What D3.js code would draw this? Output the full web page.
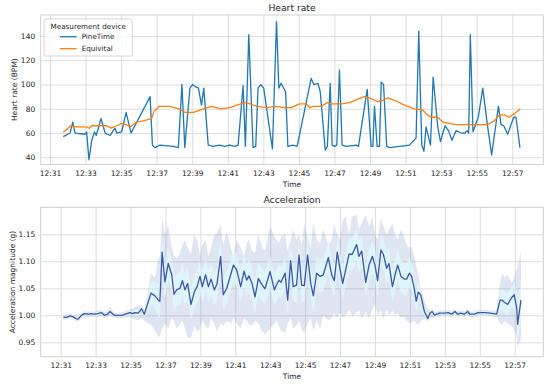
<!DOCTYPE html>
<html>
<head>
<meta charset="utf-8">
<script src="https://cdn.jsdelivr.net/npm/d3@7"></script>
<style>
body { margin: 0; background: #fff; }
text { font-family: "DejaVu Sans", sans-serif; fill: #262626; }
</style>
</head>
<body>
<script>
// times are minutes after 12:00
var pineTime = [31.75,32.13,32.28,32.41,32.97,33.06,33.19,33.35,33.50,33.60,33.87,34.10,34.38,34.66,34.75,35.03,35.28,35.56,36.63,36.76,
  36.90,37.19,37.94,38.22,38.42,38.58,38.87,39.02,39.20,39.35,39.52,39.65,39.90,40.17,40.54,40.83,41.11,41.39,41.58,41.86,
  41.99,42.18,42.42,42.57,42.70,42.85,43.02,43.51,43.74,43.87,44.00,44.25,44.38,44.66,44.90,45.69,45.84,46.07,46.20,46.48,
  46.60,46.76,46.87,47.00,47.13,47.28,47.43,47.66,48.22,48.35,48.84,49.06,49.16,49.25,49.40,49.53,49.63,49.76,49.94,50.09,
  51.22,51.59,51.74,51.91,52.03,52.15,52.40,52.55,52.81,52.96,53.22,53.41,53.61,53.84,54.12,54.34,54.46,54.55,54.64,54.79,
  55.09,55.34,55.58,55.84,56.22,56.37,56.52,56.74,57.08,57.21,57.43];
var pineBpm = [57,60,69,60,59,61,38,54,61,58,72,60,58,64,60,61,77,60,90,50,
  48,50,49,48,100,48,97,100,98,97,83,97,50,49,50,49,50,49,50,99,
  49,141,48,49,97,100,97,47,152,97,101,94,49,50,49,105,100,101,94,46,
  49,101,50,49,50,112,50,49,50,49,96,49,49,82,49,49,102,100,49,48,
  50,56,144,50,45,65,50,106,65,53,66,62,54,62,60,60,62,60,141,61,
  73,97,69,42,82,67,66,59,73,73,48];

var equiTime = [31.75,32.18,32.50,33.06,33.21,33.35,33.81,34.19,34.43,34.75,35.03,35.28,35.50,35.88,36.25,36.72,36.85,37.00,37.15,37.75,
  38.22,38.60,39.07,39.63,40.10,40.57,41.13,41.50,41.97,42.25,42.63,43.20,43.66,44.19,44.57,45.04,45.41,45.60,45.79,46.25,
  46.59,46.82,47.38,47.85,48.31,48.69,48.97,49.25,49.44,49.72,50.00,50.37,50.94,51.50,51.97,52.15,52.43,52.81,53.09,53.46,
  53.84,54.12,54.40,55.06,55.62,55.99,56.27,56.55,56.83,57.12,57.45];
var equiBpm = [60.6,66,65,65,64,66,66,66,64,66,68,67,65,69,70,72,78,80,82,82,
  80,77,77,80,82,80,81,83,85,84,82,81,82,81,81,84,84,81,82,82,
  85,84,84,85,88,90,89,87,86,87,89,87,83,80,79,76,73,73,69,68,
  67,67,67,67,67,70,75,75,73,76,80];

var accTime = [31.15,31.34,31.53,31.72,31.86,32.00,32.16,32.35,32.58,32.74,32.93,33.12,33.35,33.50,33.69,33.82,34.07,34.30,34.49,34.78,
  34.97,35.12,35.25,35.44,35.63,35.79,36.17,36.40,36.59,36.68,36.81,36.97,37.16,37.36,37.49,37.64,37.83,37.97,38.12,38.27,
  38.46,38.65,38.81,38.98,39.11,39.30,39.46,39.61,39.80,39.95,40.16,40.31,40.51,40.79,40.89,41.08,41.31,41.50,41.65,41.78,
  41.95,42.13,42.32,42.55,42.70,42.99,43.24,43.37,43.50,43.62,43.85,44.00,44.17,44.32,44.51,44.65,44.80,44.95,45.14,45.32,
  45.47,45.66,45.85,46.04,46.33,46.52,46.67,46.84,46.99,47.15,47.32,47.51,47.70,47.95,48.08,48.24,48.47,48.66,48.85,49.00,
  49.15,49.34,49.48,49.67,49.80,50.00,50.15,50.30,50.49,50.68,50.81,50.97,51.10,51.25,51.36,51.48,51.62,51.83,52.02,52.15,
  52.28,52.40,52.53,52.72,53.01,53.20,53.39,53.58,53.74,53.93,54.12,54.31,54.44,54.69,54.92,55.30,55.59,55.97,56.16,56.29,
  56.41,56.60,56.83,56.98,57.12,57.17,57.36];
var accMean = [0.996,0.996,0.999,0.997,0.994,0.993,0.999,1.003,1.002,1.003,1.002,1.003,1.005,1.000,1.002,1.007,1.000,1.000,1.000,1.003,
  1.005,1.003,1.005,1.004,1.012,1.002,1.041,1.036,1.028,1.026,1.117,1.062,1.096,1.075,1.039,1.047,1.050,1.064,1.047,1.059,
  1.020,1.043,1.053,1.072,1.053,1.075,1.053,1.067,1.047,1.058,1.109,1.038,1.050,1.081,1.093,1.084,1.053,1.082,1.065,1.073,
  1.060,1.034,1.068,1.056,1.049,1.081,1.047,1.057,1.065,1.061,1.078,1.028,1.101,1.053,1.056,1.112,1.056,1.055,1.112,1.059,
  1.036,1.078,1.072,1.075,1.107,1.075,1.064,1.117,1.087,1.059,1.084,1.113,1.113,1.131,1.109,1.119,1.061,1.093,1.109,1.093,
  1.064,1.121,1.113,1.087,1.096,1.053,1.075,1.093,1.072,1.067,1.067,1.078,1.072,1.050,1.026,1.043,1.038,1.007,0.994,1.004,
  1.007,1.000,1.002,1.004,1.004,1.005,1.002,1.007,1.002,1.004,1.002,1.007,1.002,1.002,1.005,1.005,1.004,1.002,1.028,1.028,
  1.024,1.020,1.033,1.038,1.012,0.983,1.028];
var accMax = [1.000,1.001,1.004,1.002,0.999,0.998,1.004,1.008,1.006,1.008,1.006,1.009,1.010,1.005,1.008,1.016,1.005,1.005,1.005,1.009,
  1.011,1.012,1.015,1.018,1.020,1.010,1.078,1.070,1.105,1.110,1.178,1.150,1.167,1.125,1.110,1.105,1.115,1.130,1.139,1.125,
  1.115,1.150,1.140,1.110,1.130,1.140,1.110,1.125,1.150,1.152,1.167,1.130,1.155,1.120,1.110,1.140,1.125,1.110,1.135,1.140,
  1.120,1.115,1.150,1.125,1.120,1.164,1.146,1.140,1.135,1.145,1.152,1.120,1.140,1.158,1.140,1.150,1.130,1.170,1.145,1.125,
  1.173,1.140,1.135,1.160,1.130,1.140,1.168,1.150,1.140,1.175,1.183,1.150,1.183,1.186,1.160,1.170,1.186,1.165,1.182,1.150,
  1.140,1.180,1.165,1.150,1.160,1.170,1.150,1.140,1.160,1.145,1.130,1.125,1.127,1.109,1.090,1.078,1.050,1.028,1.012,1.010,
  1.012,1.006,1.007,1.009,1.009,1.010,1.007,1.012,1.007,1.009,1.007,1.012,1.007,1.007,1.010,1.010,1.009,1.008,1.059,1.078,
  1.070,1.075,1.060,1.071,1.085,1.090,1.118];
var accMin = [0.991,0.992,0.994,0.993,0.989,0.988,0.994,0.998,0.997,0.998,0.997,0.998,0.999,0.995,0.996,1.000,0.995,0.995,0.995,0.997,
  0.998,0.994,0.993,0.990,0.996,0.990,0.982,0.972,0.960,0.962,0.975,0.985,0.975,0.995,0.990,0.975,0.985,0.990,0.975,0.960,
  0.957,0.980,0.970,0.975,0.990,0.980,0.975,0.995,0.985,0.970,0.985,0.980,0.990,0.985,0.995,0.985,0.975,0.995,0.990,0.985,
  0.980,0.990,0.985,0.970,0.965,0.975,0.985,0.990,0.980,0.972,0.967,0.985,0.995,0.975,0.982,0.990,0.975,0.967,0.985,0.995,
  0.970,0.990,0.975,1.000,0.990,0.995,1.004,0.995,1.005,0.995,1.000,1.010,0.998,1.005,1.010,0.995,1.005,0.995,1.010,1.020,
  1.000,1.010,0.995,1.010,1.000,1.008,1.000,1.005,0.995,0.998,0.990,0.985,0.988,0.990,0.985,0.982,0.990,0.993,0.988,0.994,
  0.997,0.995,0.997,0.999,0.999,1.000,0.997,1.002,0.997,0.999,0.997,1.002,0.997,0.997,1.000,1.000,0.999,0.996,0.985,0.982,
  0.990,0.985,0.980,0.973,0.960,0.942,0.955];
var accStd = [0.003,0.003,0.003,0.003,0.003,0.003,0.003,0.003,0.003,0.003,0.003,0.003,0.003,0.003,0.003,0.004,0.003,0.003,0.003,0.003,
  0.004,0.004,0.005,0.006,0.005,0.005,0.020,0.025,0.030,0.030,0.030,0.030,0.030,0.030,0.030,0.030,0.030,0.030,0.030,0.030,
  0.030,0.030,0.030,0.030,0.030,0.030,0.030,0.030,0.030,0.030,0.030,0.030,0.030,0.030,0.030,0.030,0.030,0.030,0.030,0.030,
  0.030,0.030,0.030,0.030,0.030,0.030,0.030,0.030,0.030,0.030,0.030,0.030,0.030,0.030,0.030,0.030,0.030,0.030,0.030,0.030,
  0.030,0.030,0.030,0.030,0.030,0.030,0.030,0.030,0.030,0.030,0.030,0.030,0.030,0.030,0.030,0.030,0.030,0.030,0.030,0.030,
  0.030,0.030,0.030,0.030,0.030,0.030,0.030,0.030,0.030,0.030,0.030,0.028,0.026,0.024,0.020,0.018,0.014,0.008,0.005,0.004,
  0.004,0.003,0.003,0.003,0.003,0.003,0.003,0.003,0.003,0.003,0.003,0.003,0.003,0.003,0.003,0.003,0.003,0.003,0.018,0.020,
  0.020,0.020,0.020,0.024,0.028,0.032,0.035];

var timeTicks = ["12:31","12:33","12:35","12:37","12:39","12:41","12:43","12:45","12:47","12:49","12:51","12:53","12:55","12:57"];
var hrTicks = [40, 60, 80, 100, 120, 140];
var accTicks = [0.95, 1.00, 1.05, 1.10, 1.15];

var svg = d3.select("body").append("svg")
  .attr("width", 550)
  .attr("height", 384);

var parseHM = d3.timeParse("%H:%M");
var noon = parseHM("12:00");
function toDate(m) { return new Date(noon.getTime() + m * 60000); }
var tickDates = timeTicks.map(parseHM);

var left = 40.7, right = 543.3;
var top1 = 15, bot1 = 164.3, top2 = 207.3, bot2 = 356.7;

var x1 = d3.scaleTime().domain([toDate(30.477), toDate(58.745)]).range([left, right]);
var y1 = d3.scaleLinear().domain([34.23, 157.3]).range([bot1, top1]);
var x2 = d3.scaleTime().domain([toDate(29.855), toDate(58.64)]).range([left, right]);
var y2 = d3.scaleLinear().domain([0.9233, 1.2]).range([bot2, top2]);

var fs = 7.5;

function drawGrid(x, y, yTicks, yFmt, top, bot, xPad) {
  var gx = svg.append("g")
    .attr("transform", "translate(0," + bot + ")")
    .call(d3.axisBottom(x).tickValues(tickDates).tickFormat(d3.timeFormat("%H:%M"))
      .tickSize(-(bot - top)).tickPadding(xPad));
  var gy = svg.append("g")
    .attr("transform", "translate(" + left + ",0)")
    .call(d3.axisLeft(y).tickValues(yTicks).tickFormat(yFmt)
      .tickSize(-(right - left)).tickPadding(5.5));
  [gx, gy].forEach(function(g) {
    g.select(".domain").remove();
    g.selectAll("line").attr("stroke", "#d9d9d9").attr("stroke-width", 0.9);
    g.attr("font-family", null).attr("font-size", fs);
    g.selectAll("text").attr("fill", "#262626");
  });
}

function drawFrame(top, bot, title, titleY, ylabel, ylabelX, xlabelY) {
  svg.append("rect")
    .attr("x", left).attr("y", top)
    .attr("width", right - left).attr("height", bot - top)
    .attr("fill", "none").attr("stroke", "#cccccc").attr("stroke-width", 0.9);
  svg.append("text")
    .attr("x", (left + right) / 2).attr("y", titleY)
    .attr("text-anchor", "middle").attr("font-size", 9.2)
    .text(title);
  svg.append("text")
    .attr("x", (left + right) / 2).attr("y", xlabelY)
    .attr("text-anchor", "middle").attr("font-size", fs)
    .text("Time");
  svg.append("text")
    .attr("transform", "translate(" + ylabelX + "," + (top + bot) / 2 + ") rotate(-90)")
    .attr("text-anchor", "middle").attr("font-size", fs)
    .text(ylabel);
}

// heart rate panel
drawGrid(x1, y1, hrTicks, d3.format("d"), top1, bot1, 6.8);

var pineLine = d3.line()
  .x(function(d, i) { return x1(toDate(pineTime[i])); })
  .y(function(d) { return y1(d); });
var equiLine = d3.line()
  .x(function(d, i) { return x1(toDate(equiTime[i])); })
  .y(function(d) { return y1(d); });

svg.append("path").datum(pineBpm)
  .attr("d", pineLine)
  .attr("fill", "none").attr("stroke", "#1f77b4").attr("stroke-width", 1.3)
  .attr("stroke-linejoin", "round");
svg.append("path").datum(equiBpm)
  .attr("d", equiLine)
  .attr("fill", "none").attr("stroke", "#ff7f0e").attr("stroke-width", 1.3)
  .attr("stroke-linejoin", "round");

drawFrame(top1, bot1, "Heart rate", 11.2, "Heart rate (BPM)", 16.5, 187.2);

// legend
var leg = svg.append("g");
leg.append("rect")
  .attr("x", 44).attr("y", 19).attr("width", 88.3).attr("height", 37).attr("rx", 2)
  .attr("fill", "#fff").attr("fill-opacity", 0.8)
  .attr("stroke", "#cccccc").attr("stroke-width", 0.8);
leg.append("text")
  .attr("x", 88.2).attr("y", 28.6).attr("text-anchor", "middle").attr("font-size", 7.2)
  .text("Measurement device");
var legItems = [["PineTime", "#1f77b4"], ["Equivital", "#ff7f0e"]];
legItems.forEach(function(it, i) {
  var yy = 36.7 + i * 12;
  leg.append("line")
    .attr("x1", 60).attr("x2", 76.7).attr("y1", yy).attr("y2", yy)
    .attr("stroke", it[1]).attr("stroke-width", 1.3);
  leg.append("text")
    .attr("x", 81.7).attr("y", yy + 2.7).attr("font-size", 7.2)
    .text(it[0]);
});

// acceleration panel
drawGrid(x2, y2, accTicks, d3.format(".2f"), top2, bot2, 6.2);

var outerArea = d3.area()
  .x(function(d, i) { return x2(toDate(accTime[i])); })
  .y0(function(d, i) { return y2(accMin[i]); })
  .y1(function(d, i) { return y2(accMax[i]); });
var innerArea = d3.area()
  .x(function(d, i) { return x2(toDate(accTime[i])); })
  .y0(function(d, i) { return y2(accMean[i] - accStd[i]); })
  .y1(function(d, i) { return y2(accMean[i] + accStd[i]); });
var accLine = d3.line()
  .x(function(d, i) { return x2(toDate(accTime[i])); })
  .y(function(d) { return y2(d); });

svg.append("path").datum(accMean)
  .attr("d", outerArea)
  .attr("fill", "#4a64b0").attr("fill-opacity", 0.17);
svg.append("path").datum(accMean)
  .attr("d", innerArea)
  .attr("fill", "#e0ffff").attr("fill-opacity", 0.6);
svg.append("path").datum(accMean)
  .attr("d", accLine)
  .attr("fill", "none").attr("stroke", "#3a56a6").attr("stroke-width", 1.3)
  .attr("stroke-linejoin", "round");

drawFrame(top2, bot2, "Acceleration", 202.7, "Acceleration magnitude (g)", 14.5, 379.2);
</script>
</body>
</html>
